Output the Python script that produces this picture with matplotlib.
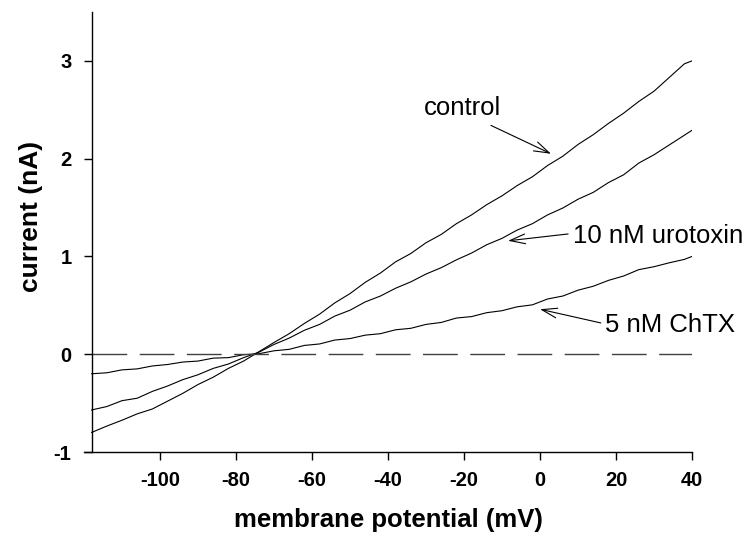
import numpy as np
import matplotlib
matplotlib.use('Agg')
from matplotlib import pyplot as plt

# membrane potential (mV) sample points
voltage = [-118, -114, -110, -106, -102, -98, -94, -90, -86, -82, -78, -74,
           -70, -66, -62, -58, -54, -50, -46, -42, -38, -34, -30, -26, -22,
           -18, -14, -10, -6, -2, 2, 6, 10, 14, 18, 22, 26, 30, 34, 38, 40]

# current (nA)
control = [-0.80, -0.735, -0.675, -0.61, -0.56, -0.48, -0.40, -0.31, -0.235,
           -0.145, -0.07, 0.025, 0.12, 0.21, 0.315, 0.41, 0.525, 0.62, 0.735,
           0.83, 0.945, 1.03, 1.14, 1.225, 1.335, 1.425, 1.53, 1.62, 1.725,
           1.815, 1.93, 2.025, 2.145, 2.245, 2.36, 2.465, 2.585, 2.69, 2.83,
           2.97, 3.00]
urotoxin = [-0.57, -0.535, -0.475, -0.45, -0.38, -0.325, -0.26, -0.21, -0.145,
            -0.10, -0.035, 0.02, 0.10, 0.165, 0.245, 0.305, 0.39, 0.45, 0.535,
            0.595, 0.675, 0.74, 0.82, 0.885, 0.965, 1.035, 1.12, 1.185, 1.27,
            1.335, 1.425, 1.495, 1.585, 1.655, 1.755, 1.835, 1.955, 2.04, 2.14,
            2.24, 2.29]
chtx = [-0.20, -0.19, -0.16, -0.15, -0.12, -0.105, -0.08, -0.07, -0.04,
        -0.035, -0.005, 0.005, 0.035, 0.05, 0.09, 0.105, 0.145, 0.16, 0.195,
        0.21, 0.25, 0.265, 0.305, 0.325, 0.37, 0.385, 0.425, 0.445, 0.485,
        0.505, 0.565, 0.595, 0.655, 0.695, 0.755, 0.80, 0.865, 0.895, 0.935,
        0.97, 1.00]

x_ticks = [-100, -80, -60, -40, -20, 0, 20, 40]
y_ticks = [-1, 0, 1, 2, 3]

plt.rcParams['font.family'] = ['Liberation Sans', 'DejaVu Sans']
plt.rcParams['axes.unicode_minus'] = False

fig = plt.figure(figsize=(7.55, 5.42), dpi=100)
ax = fig.add_axes([84 / 755, 1 - 452 / 542, 608 / 755, 440 / 542])

# traces
for trace in (control, urotoxin, chtx):
    ax.plot(voltage, trace, '-', color='black', lw=0.8)
# zero current reference
ax.plot([voltage[0], 40], [0, 0], color='#404040', lw=1.0,
        dashes=(25, 9))

ax.set_xlim(-120, 40)
ax.set_ylim(-1, 3.5)
ax.spines['top'].set_visible(False)
ax.spines['right'].set_visible(False)
ax.spines['left'].set_position(('data', -118))
ax.spines['left'].set_linewidth(1.0)
ax.spines['bottom'].set_linewidth(1.0)
ax.set_xticks(x_ticks)
ax.set_yticks(y_ticks)
ax.tick_params(axis='x', length=6, width=1.0, pad=8, labelsize=14.5)
ax.tick_params(axis='y', length=5.5, width=1.0, pad=9, labelsize=14.5)
for lab in ax.get_xticklabels() + ax.get_yticklabels():
    lab.set_fontweight('bold')

ax.set_xlabel('membrane potential (mV)', fontsize=18.5, fontweight='bold',
              labelpad=13)
ax.set_ylabel('current (nA)', fontsize=19, fontweight='bold')
ax.yaxis.set_label_coords(-0.068, 0.535)

# labels with arrows
arrow = dict(arrowstyle='->, head_length=1.1, head_width=0.35',
             color='black', lw=0.8, shrinkA=0, shrinkB=0)
ax.annotate('', xy=(2.9, 2.05), xytext=(-12.9, 2.34), arrowprops=arrow)
ax.text(-20.3, 2.52, 'control', fontsize=18.5, ha='center', va='center')
ax.annotate('', xy=(-8.4, 1.16), xytext=(7.4, 1.23), arrowprops=arrow)
ax.text(8.7, 1.21, '10 nM urotoxin', fontsize=18.5, ha='left', va='center')
ax.annotate('', xy=(0.0, 0.46), xytext=(16.0, 0.32), arrowprops=arrow)
ax.text(17.1, 0.30, '5 nM ChTX', fontsize=18.5, ha='left', va='center')

fig.savefig('out.png', dpi=100)
